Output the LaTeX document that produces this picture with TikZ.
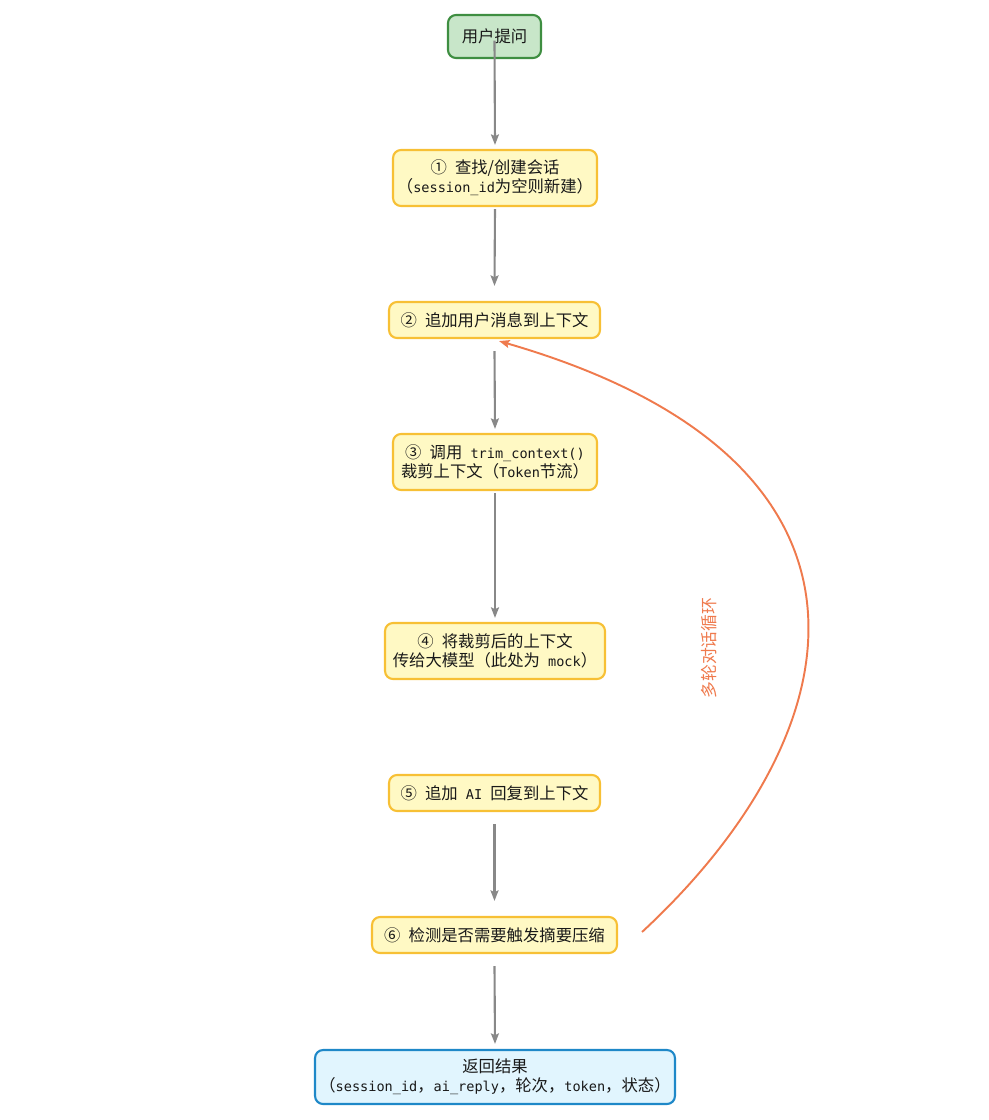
\documentclass[tikz,border=0pt]{standalone}
\usepackage{fontspec}
\setmainfont{Noto Sans CJK SC}
\newfontfamily\codefont[Scale=0.83]{DejaVu Sans Mono}
\newcommand{\txtcode}[1]{{\codefont #1}}
\newcommand{\gapsp}{\txtcode{\ }}
\usepackage{tikz}
\usetikzlibrary{positioning, arrows.meta}
\definecolor{stepfill}{HTML}{FFF9C4}
\definecolor{stepdraw}{HTML}{F7C035}
\definecolor{startfill}{HTML}{C8E6C9}
\definecolor{startdraw}{HTML}{3E8E41}
\definecolor{endfill}{HTML}{E1F5FE}
\definecolor{enddraw}{HTML}{1E88C8}
\definecolor{flowgray}{HTML}{888888}
\definecolor{loopcol}{HTML}{EF7A4D}

\begin{document}
\begin{tikzpicture}[
  x=0.02cm, y=-0.02cm,
  box/.style={rectangle, rounded corners=0.16cm, line width=1.2pt,
              align=center, inner sep=2pt, text=black!90,
              font=\fontsize{9.3pt}{10.8pt}\selectfont},
  startbox/.style={box, fill=startfill, draw=startdraw},
  stepbox/.style={box, fill=stepfill, draw=stepdraw},
  endbox/.style={box, fill=endfill, draw=enddraw},
  flow/.style={draw=flowgray, line width=1.2pt,
               -{Stealth[length=6pt, width=4.5pt, inset=1pt]}},
  loopline/.style={draw=loopcol, line width=1.1pt,
                   -{Stealth[length=6pt, width=4.5pt, inset=1pt]}},
  lbl/.style={text=loopcol, font=\fontsize{9.6pt}{10.8pt}\selectfont}
]
  \useasboundingbox (0,0) rectangle (989,1120);

  % Nodes of the flow, top to bottom
  \node[startbox, minimum width=1.86cm, minimum height=0.86cm]
    (ask) at (494.5,36.5) {用户提问};
  \node[stepbox, minimum width=4.08cm, minimum height=1.12cm]
    (find) at (495,178) {①\gapsp 查找/创建会话\\（\txtcode{session\_id}为空则新建）};
  \node[stepbox, minimum width=4.22cm, minimum height=0.72cm]
    (adduser) at (494.5,320) {②\gapsp 追加用户消息到上下文};
  \node[stepbox, minimum width=4.08cm, minimum height=1.12cm]
    (trim) at (495,462) {③\gapsp 调用\gapsp\txtcode{trim\_context()}\\裁剪上下文（\txtcode{Token}节流）};
  \node[stepbox, minimum width=4.40cm, minimum height=1.12cm]
    (model) at (495,651) {④\gapsp 将裁剪后的上下文\\传给大模型（此处为\gapsp\txtcode{mock}）};
  \node[stepbox, minimum width=4.22cm, minimum height=0.72cm]
    (addai) at (494.5,793) {⑤\gapsp 追加\gapsp\txtcode{AI}\gapsp 回复到上下文};
  \node[stepbox, minimum width=4.90cm, minimum height=0.72cm]
    (check) at (494.5,935) {⑥\gapsp 检测是否需要触发摘要压缩};
  \node[endbox, minimum width=7.20cm, minimum height=1.08cm]
    (result) at (495,1077) {返回结果\\（\txtcode{session\_id}，\txtcode{ai\_reply}，轮次，\txtcode{token}，状态）};

  % Straight connectors
  \draw[flow] ([shift={(0,4)}]ask.center) -- ([shift={(0,-4)}]find.north);
  \draw[flow] ([shift={(0,2)}]find.south) -- ([shift={(0,-15)}]adduser.north);
  \draw[flow] ([shift={(0,12)}]adduser.south) -- ([shift={(0,-4)}]trim.north);
  \draw[flow] ([shift={(0,2)}]trim.south) -- ([shift={(0,-4)}]model.north);
  \draw[flow] ([shift={(0,12)}]addai.south) -- ([shift={(0,-15)}]check.north);
  \draw[flow] ([shift={(0,12)}]check.south) -- ([shift={(0,-5)}]result.north);

  % Loop back for the next round
  \draw[loopline] ([shift={(24,-3)}]check.east)
    .. controls (860,730) and (910,460) .. ([shift={(4.5,2)}]adduser.south);
  \node[lbl, rotate=90] (looplbl) at (709,648) {多轮对话循环};
\end{tikzpicture}
\end{document}
